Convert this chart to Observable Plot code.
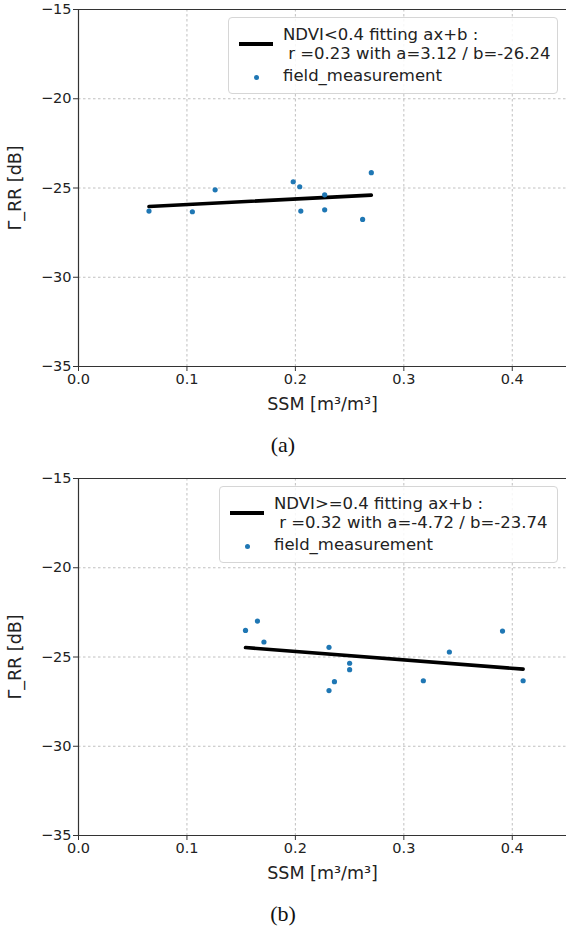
<!DOCTYPE html>
<html>
<head>
<meta charset="utf-8">
<script src="https://cdn.jsdelivr.net/npm/d3@7"></script>
<script src="https://cdn.jsdelivr.net/npm/@observablehq/plot@0.6"></script>
<style>
  html, body { margin: 0; padding: 0; background: #fff; }
  body { width: 566px; font-family: "DejaVu Sans", sans-serif; overflow: hidden; }
  .panel { position: relative; width: 566px; height: 420px; }
  .caption { height: 49px; text-align: center; font-family: "Liberation Serif", serif; font-size: 22px; line-height: 50px; color: #111; }
  .legend { position: absolute; border: 1px solid #d6d6d6; border-radius: 4px; background: rgba(255,255,255,0.85); height: 75px; font-size: 16.5px; color: #222; }
  .legend .ln { position: absolute; white-space: pre; line-height: 19px; }
  .legend .sample { position: absolute; height: 3.6px; background: #000; width: 34px; }
  .legend .dot { position: absolute; width: 5px; height: 5px; border-radius: 50%; background: #1f77b4; }
</style>
</head>
<body>
<div id="root"></div>
<script>
// ---- data ----
const xTicks = [0.0, 0.1, 0.2, 0.3, 0.4];
const yTicks = [-35, -30, -25, -20, -15];

// Panel (a): NDVI < 0.4
const ssmA = [0.065, 0.105, 0.126, 0.198, 0.204, 0.205, 0.227, 0.227, 0.262, 0.270];
const rrA  = [-26.29, -26.33, -25.10, -24.65, -24.93, -26.29, -25.38, -26.22, -26.76, -24.14];
const fitXA = [0.065, 0.270];
const fitYA = [-26.04, -25.40];
const legendA = ["NDVI<0.4 fitting ax+b :", " r =0.23 with a=3.12 / b=-26.24", "field_measurement"];

// Panel (b): NDVI >= 0.4
const ssmB = [0.154, 0.165, 0.171, 0.231, 0.250, 0.250, 0.236, 0.231, 0.318, 0.342, 0.391, 0.410];
const rrB  = [-23.51, -22.99, -24.16, -24.46, -25.35, -25.71, -26.38, -26.88, -26.33, -24.72, -23.55, -26.33];
const fitXB = [0.154, 0.410];
const fitYB = [-24.47, -25.68];
const legendB = ["NDVI>=0.4 fitting ax+b :", " r =0.32 with a=-4.72 / b=-23.74", "field_measurement"];

const captions = ["(a)", "(b)"];
const xLabel = "SSM [m³/m³]";
const yLabel = "Γ_RR [dB]";

function panel(xs, ys, fx, fy) {
  const pts = xs.map((x, i) => ({x, y: ys[i]}));
  const fit = fx.map((x, i) => ({x, y: fy[i]}));
  const grid = {stroke: "#b0b0b0", strokeOpacity: 1, strokeWidth: 0.8, strokeDasharray: "2.5,2.5"};
  return Plot.plot({
    width: 566, height: 420,
    marginTop: 9, marginBottom: 54, marginLeft: 78, marginRight: 0,
    x: {domain: [0, 0.45]},
    y: {domain: [-35, -15]},
    style: {fontFamily: "DejaVu Sans, sans-serif", fontSize: "14px", color: "#222", background: "white", overflow: "visible"},
    marks: [
      Plot.gridX(xTicks, grid),
      Plot.gridY(yTicks, grid),
      Plot.ruleX([xTicks[0]], {stroke: "#333", strokeWidth: 1.2}),
      Plot.ruleY([yTicks[0], yTicks[yTicks.length - 1]], {stroke: "#333", strokeWidth: 1.2}),
      Plot.axisX(xTicks, {tickFormat: d3.format(".1f"), tickSize: 5, tickPadding: 2, label: null, fontSize: 14.5, stroke: "#333"}),
      Plot.axisX([], {label: xLabel, labelAnchor: "center", labelArrow: "none", labelOffset: 43, fontSize: 17.5}),
      Plot.axisY(yTicks, {tickFormat: d3.format("d"), tickSize: 5, tickPadding: 2, label: null, fontSize: 14.5, stroke: "#333"}),
      Plot.axisY([], {label: yLabel, labelAnchor: "center", labelArrow: "none", labelOffset: 70, fontSize: 17.5}),
      Plot.line(fit, {x: "x", y: "y", stroke: "black", strokeWidth: 3.6}),
      Plot.dot(pts, {x: "x", y: "y", r: 2.6, fill: "#1f77b4", stroke: "none"})
    ]
  });
}

function legend(lines, left) {
  const lg = document.createElement("div");
  lg.className = "legend";
  lg.style.left = left + "px";
  lg.style.top = "17px";
  lg.style.width = (556 - left) + "px";
  const s = document.createElement("div"); s.className = "sample"; s.style.left = "10px"; s.style.top = "24px"; lg.appendChild(s);
  const t1 = document.createElement("div"); t1.className = "ln"; t1.style.left = "54px"; t1.style.top = "7px"; t1.textContent = lines[0]; lg.appendChild(t1);
  const t2 = document.createElement("div"); t2.className = "ln"; t2.style.left = "54px"; t2.style.top = "26px"; t2.textContent = lines[1]; lg.appendChild(t2);
  const d = document.createElement("div"); d.className = "dot"; d.style.left = "25px"; d.style.top = "57px"; lg.appendChild(d);
  const t3 = document.createElement("div"); t3.className = "ln"; t3.style.left = "54px"; t3.style.top = "48px"; t3.textContent = lines[2]; lg.appendChild(t3);
  return lg;
}

const root = document.getElementById("root");
const configs = [
  [ssmA, rrA, fitXA, fitYA, legendA, 228],
  [ssmB, rrB, fitXB, fitYB, legendB, 219]
];
configs.forEach(([xs, ys, fx, fy, lines, left], i) => {
  const p = document.createElement("div");
  p.className = "panel";
  p.appendChild(panel(xs, ys, fx, fy));
  p.appendChild(legend(lines, left));
  root.appendChild(p);
  const c = document.createElement("div");
  c.className = "caption";
  c.textContent = captions[i];
  root.appendChild(c);
});
</script>
</body>
</html>
